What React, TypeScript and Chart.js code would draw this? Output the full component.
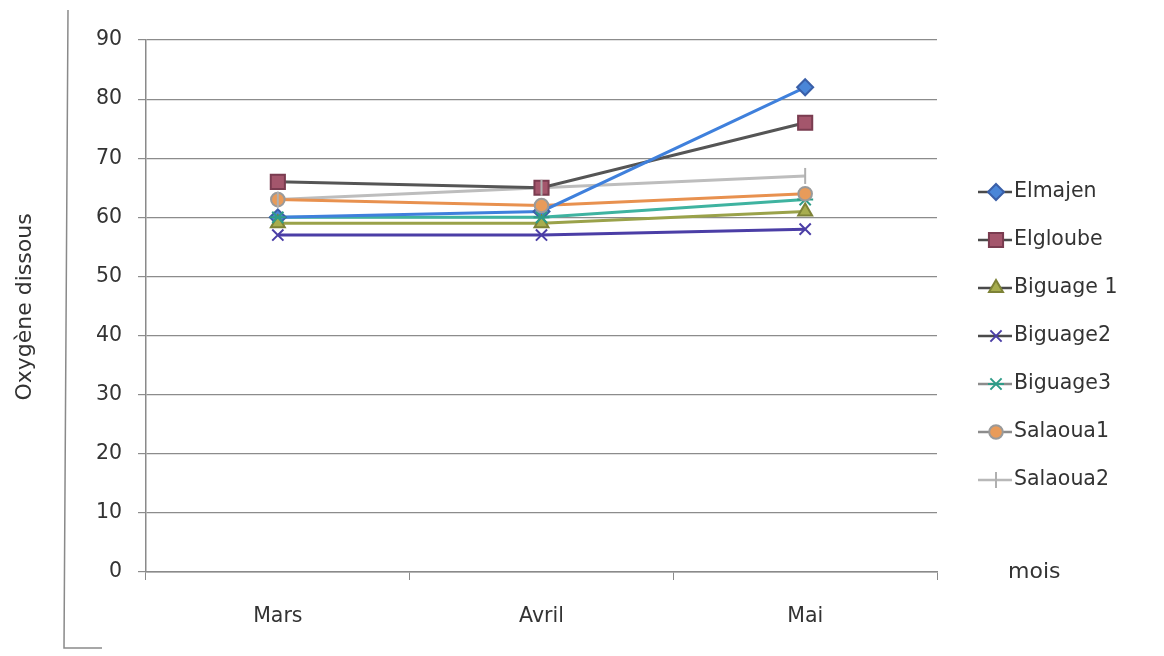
import React, { useEffect, useRef } from "react";
import { Chart, registerables } from "chart.js";

Chart.register(...registerables);

// Dissolved oxygen per site, by month
const months = ["Mars", "Avril", "Mai"];
const yTicks = [0, 10, 20, 30, 40, 50, 60, 70, 80, 90];

const elmajen = [60, 61, 82];
const elgloube = [66, 65, 76];
const biguage1 = [59, 59, 61];
const biguage2 = [57, 57, 58];
const biguage3 = [60, 60, 63];
const salaoua1 = [63, 62, 64];
const salaoua2 = [63, 65, 67];

const FONT = "'DejaVu Sans', 'Open Sans', sans-serif";
const TEXT = "#333333";

type SeriesDef = {
  label: string;
  data: number[];
  line: string;
  fill: string;
  stroke: string;
  style: string;
  radius: number;
};

const series: SeriesDef[] = [
  { label: "Elmajen", data: elmajen, line: "#3f80dc", fill: "#4a86d8", stroke: "#3a5fa8", style: "rectRot", radius: 8 },
  { label: "Elgloube", data: elgloube, line: "#555555", fill: "#a4566c", stroke: "#7a3c50", style: "rect", radius: 10 },
  { label: "Biguage 1", data: biguage1, line: "#9aa24a", fill: "#a7ad4e", stroke: "#7d8236", style: "triangle", radius: 8 },
  { label: "Biguage2", data: biguage2, line: "#4b3ea6", fill: "#4b3ea6", stroke: "#4b3ea6", style: "crossRot", radius: 8 },
  { label: "Biguage3", data: biguage3, line: "#3fb3a0", fill: "#46c2aa", stroke: "#2f9c88", style: "star", radius: 8 },
  { label: "Salaoua1", data: salaoua1, line: "#e8914f", fill: "#e89b5a", stroke: "#9a9a9a", style: "circle", radius: 8 },
  { label: "Salaoua2", data: salaoua2, line: "#bdbdbd", fill: "#bdbdbd", stroke: "#b0b0b0", style: "line", radius: 8 },
];

function drawMarker(ctx: CanvasRenderingContext2D, s: SeriesDef, x: number, y: number) {
  const r = s.radius;
  ctx.save();
  ctx.fillStyle = s.fill;
  ctx.strokeStyle = s.stroke;
  ctx.lineWidth = 2;
  ctx.beginPath();
  switch (s.style) {
    case "rectRot":
      ctx.moveTo(x, y - r);
      ctx.lineTo(x + r, y);
      ctx.lineTo(x, y + r);
      ctx.lineTo(x - r, y);
      ctx.closePath();
      ctx.fill();
      ctx.stroke();
      break;
    case "rect": {
      const h = r * Math.SQRT1_2;
      ctx.rect(x - h, y - h, 2 * h, 2 * h);
      ctx.fill();
      ctx.stroke();
      break;
    }
    case "triangle":
      ctx.moveTo(x, y - r);
      ctx.lineTo(x + r * 0.87, y + r * 0.5);
      ctx.lineTo(x - r * 0.87, y + r * 0.5);
      ctx.closePath();
      ctx.fill();
      ctx.stroke();
      break;
    case "crossRot": {
      const d = r * 0.7;
      ctx.moveTo(x - d, y - d);
      ctx.lineTo(x + d, y + d);
      ctx.moveTo(x + d, y - d);
      ctx.lineTo(x - d, y + d);
      ctx.stroke();
      break;
    }
    case "star": {
      const d = r * 0.7;
      ctx.moveTo(x - r, y);
      ctx.lineTo(x + r, y);
      ctx.moveTo(x - d, y - d);
      ctx.lineTo(x + d, y + d);
      ctx.moveTo(x + d, y - d);
      ctx.lineTo(x - d, y + d);
      ctx.stroke();
      break;
    }
    case "circle":
      ctx.arc(x, y, r * 0.85, 0, Math.PI * 2);
      ctx.fill();
      ctx.stroke();
      break;
    default:
      ctx.moveTo(x, y - r);
      ctx.lineTo(x, y + r);
      ctx.stroke();
  }
  ctx.restore();
}

// Legend, side labels and the outer frame lines
const decorations = {
  id: "decorations",
  afterDraw(chart: any) {
    const ctx: CanvasRenderingContext2D = chart.ctx;
    ctx.save();

    // frame on the left and bottom
    ctx.strokeStyle = "#8a8a8a";
    ctx.lineWidth = 1.5;
    ctx.beginPath();
    ctx.moveTo(68, 10);
    ctx.lineTo(64, 648);
    ctx.lineTo(102, 648);
    ctx.stroke();

    // y axis title
    ctx.fillStyle = TEXT;
    ctx.font = `22px ${FONT}`;
    ctx.textAlign = "center";
    ctx.textBaseline = "middle";
    ctx.translate(25, 307);
    ctx.rotate(-Math.PI / 2);
    ctx.fillText("Oxygène dissous", 0, 0);
    ctx.setTransform(1, 0, 0, 1, 0, 0);

    // x axis title
    ctx.textAlign = "left";
    ctx.font = `22px ${FONT}`;
    ctx.fillText("mois", 1008, 572);

    // legend
    ctx.font = `20.5px ${FONT}`;
    series.forEach((s, i) => {
      const y = 192 + i * 48;
      ctx.strokeStyle = i < 4 ? "#4a4a4a" : "#8c8c8c";
      if (i === 6) ctx.strokeStyle = "#b8b8b8";
      ctx.lineWidth = 2.5;
      ctx.beginPath();
      ctx.moveTo(978, y);
      ctx.lineTo(1012, y);
      ctx.stroke();
      drawMarker(ctx, s, 996, y);
      ctx.fillStyle = TEXT;
      ctx.textBaseline = "middle";
      ctx.fillText(s.label, 1014, y);
    });
    ctx.restore();
  },
};

// Markers drawn on top of the lines
const markers = {
  id: "markers",
  afterDatasetsDraw(chart: any) {
    const ctx: CanvasRenderingContext2D = chart.ctx;
    series.forEach((s, i) => {
      const meta = chart.getDatasetMeta(i);
      meta.data.forEach((pt: any) => drawMarker(ctx, s, pt.x, pt.y));
    });
  },
};

export default function App() {
  const ref = useRef<HTMLCanvasElement | null>(null);

  useEffect(() => {
    if (!ref.current) return;
    const chart = new Chart(ref.current, {
      type: "line",
      data: {
        labels: months,
        datasets: series.map((s) => ({
          label: s.label,
          data: s.data,
          borderColor: s.line,
          backgroundColor: s.fill,
          borderWidth: 3,
          pointRadius: 0,
          tension: 0,
          fill: false,
        })),
      },
      options: {
        responsive: false,
        animation: false,
        events: [],
        layout: { padding: { left: 0, right: 227, top: 40, bottom: 24 } },
        plugins: {
          legend: { display: false },
          tooltip: { enabled: false },
        },
        scales: {
          x: {
            type: "category",
            offset: true,
            afterFit(scale: any) {
              scale.height = 60;
            },
            grid: {
              offset: true,
              drawOnChartArea: false,
              drawTicks: true,
              tickLength: 8,
              color: "#8a8a8a",
            },
            border: { color: "#8a8a8a", width: 1.5 },
            ticks: {
              color: TEXT,
              font: { family: FONT, size: 20.5 },
              padding: 24,
              maxRotation: 0,
            },
          },
          y: {
            min: 0,
            max: 90,
            afterFit(scale: any) {
              scale.width = 146;
            },
            afterBuildTicks(scale: any) {
              scale.ticks = yTicks.map((v) => ({ value: v }));
            },
            grid: {
              color: "#8c8c8c",
              lineWidth: 1.2,
              tickLength: 8,
            },
            border: { color: "#8a8a8a", width: 1.5 },
            ticks: {
              color: TEXT,
              font: { family: FONT, size: 20.5 },
              padding: 16,
            },
          },
        },
      },
      plugins: [markers, decorations],
    });
    return () => chart.destroy();
  }, []);

  return (
    <div style={{ position: "absolute", left: 0, top: 0, width: 1164, height: 656, background: "#fff" }}>
      <canvas ref={ref} width={1164} height={656} style={{ display: "block" }} />
    </div>
  );
}
